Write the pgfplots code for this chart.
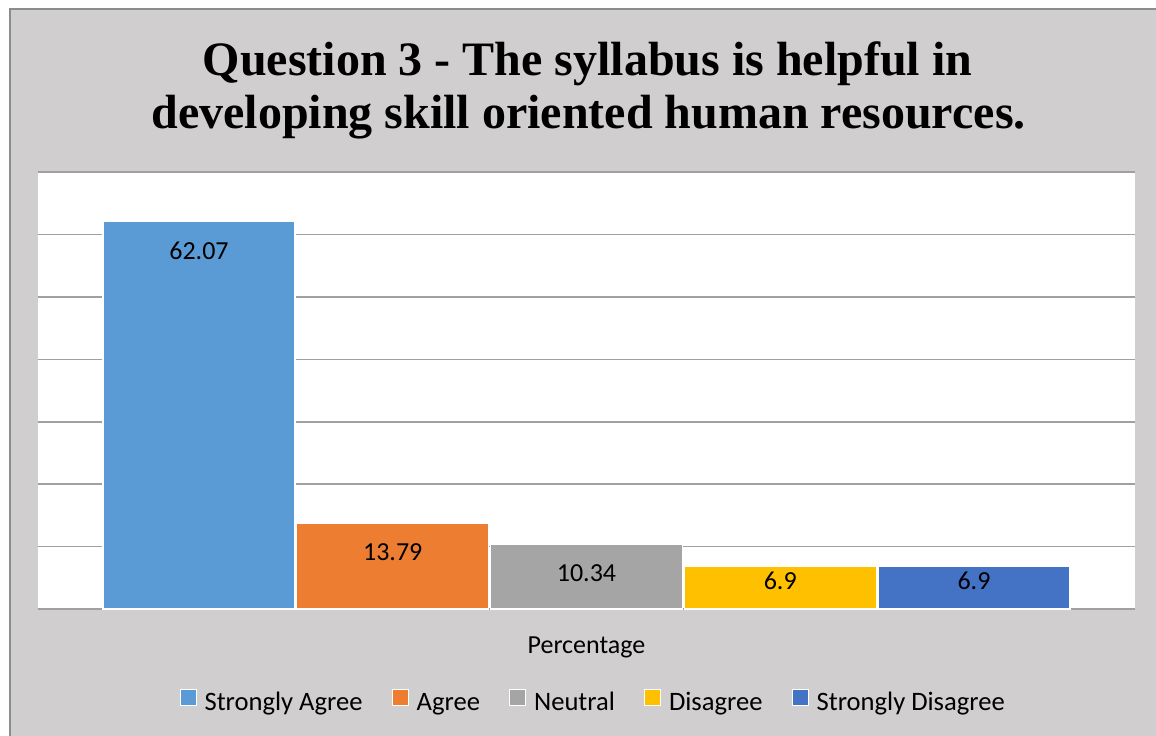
\documentclass[border=0pt]{standalone}
\usepackage{fontspec}
\setmainfont{Carlito}
\newfontfamily\titlefont{Liberation Serif}
\usepackage{pgfplots}
\pgfplotsset{compat=1.18}
\definecolor{bg}{HTML}{D0CECE}
\definecolor{frame}{HTML}{8C8C8C}
\definecolor{gridc}{HTML}{A0A0A0}
\definecolor{sagree}{HTML}{5B9BD5}
\definecolor{agree}{HTML}{ED7D31}
\definecolor{neutral}{HTML}{A5A5A5}
\definecolor{disagree}{HTML}{FFC000}
\definecolor{sdisagree}{HTML}{4472C4}
\begin{document}
\begin{tikzpicture}
\useasboundingbox (0pt,0pt) rectangle (578pt,-367.5pt);
\fill[white] (0pt,0pt) rectangle (578pt,-367.5pt);
\filldraw[fill=bg, draw=frame, line width=1pt] (5pt,-4.5pt) rectangle (590pt,-380pt);
% title, one node per line
\node[font=\titlefont\bfseries\fontsize{24}{26.5}\selectfont, anchor=base]
  at (293.75pt,-37.5pt) {Question 3 - The syllabus is helpful in};
\node[font=\titlefont\bfseries\fontsize{24}{26.5}\selectfont, anchor=base]
  at (294.25pt,-64pt) {developing skill oriented human resources.};
\begin{axis}[
  at={(19pt,-304.5pt)}, anchor=south west,
  scale only axis, width=548.5pt, height=218.5pt,
  axis background/.style={fill=white},
  axis line style={draw=none},
  ybar, bar shift=0pt, bar width=0.99,
  xmin=0.169, xmax=5.831,
  ymin=0, ymax=70,
  ytick={0,10,...,70}, yticklabels={},
  xtick=\empty,
  major tick length=0pt,
  ymajorgrids=true,
  major grid style={draw=gridc, line width=0.8pt},
  /pgf/number format/assume math mode=true,
  font=\fontsize{13}{15}\selectfont,
  xlabel={Percentage},
  xlabel style={at={(axis description cs:0.5,0)}, anchor=center, yshift=-19pt},
  nodes near coords,
  nodes near coords style={font=\fontsize{13}{15}\selectfont, text=black, anchor=center},
  legend columns=-1,
  legend style={draw=none, fill=none, at={(0.507,-0.215)}, anchor=center,
    font=\fontsize{13.3}{15}\selectfont,
    /tikz/every even column/.append style={column sep=12.5pt}},
  legend image code/.code={
    \draw[#1, draw=white, line width=0.5pt] (0pt,-1.2pt) rectangle (8pt,6.8pt);
    \path (10pt,0pt);
  },
]
\addplot[fill=sagree, draw=white, line width=0.6pt, every node near coord/.append style={yshift=-14.5pt}] coordinates {(1,62.07)};
\addplot[fill=agree, draw=white, line width=0.6pt, every node near coord/.append style={yshift=-14.5pt}] coordinates {(2,13.79)};
\addplot[fill=neutral, draw=white, line width=0.6pt, every node near coord/.append style={yshift=-14.5pt}] coordinates {(3,10.34)};
\addplot[fill=disagree, draw=white, line width=0.6pt, every node near coord/.append style={yshift=-7.5pt}] coordinates {(4,6.9)};
\addplot[fill=sdisagree, draw=white, line width=0.6pt, every node near coord/.append style={yshift=-7.5pt}] coordinates {(5,6.9)};
\legend{Strongly Agree, Agree, Neutral, Disagree, Strongly Disagree}
\end{axis}
\end{tikzpicture}
\end{document}
